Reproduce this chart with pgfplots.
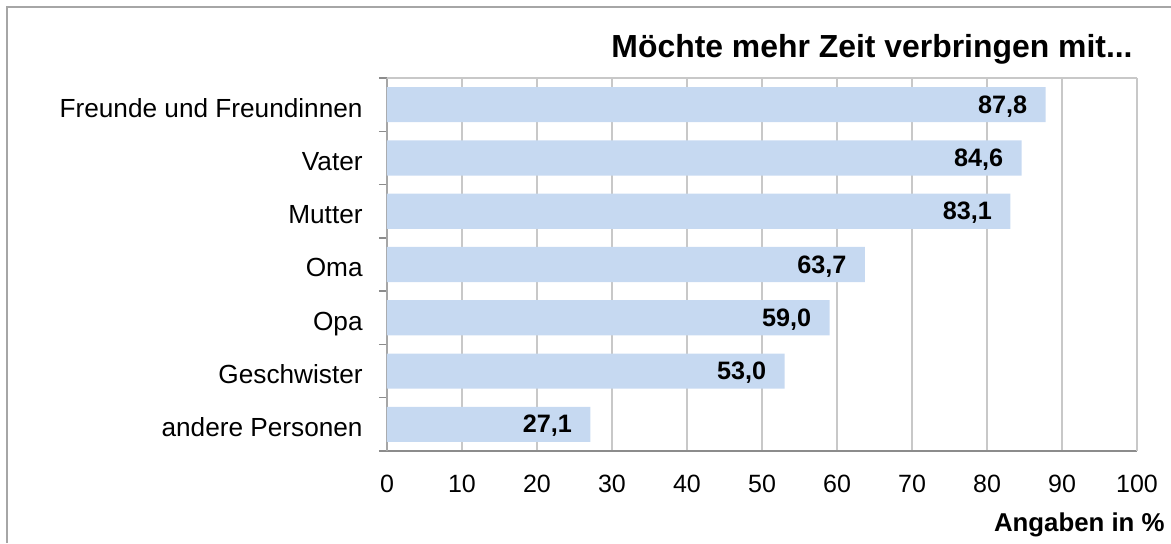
\documentclass[border=0pt]{standalone}
\usepackage{fontspec}
\setmainfont{Liberation Sans}
\usepackage{pgfplots}
\pgfplotsset{compat=1.18}
\definecolor{barblue}{HTML}{C6D9F1}
\definecolor{gridgray}{HTML}{C8C8C8}
\definecolor{axisgray}{HTML}{8C8C8C}
\definecolor{framegray}{HTML}{A6A6A6}

\pgfplotstableread{
y val
0 87.8
1 84.6
2 83.1
3 63.7
4 59.0
5 53.0
6 27.1
}\datatable

\begin{document}
\begin{tikzpicture}
\begin{axis}[
    scale only axis,
    width=375pt, height=186.5pt,
    xbar,
    bar width=0.66,
    xmin=0, xmax=100,
    ymin=-0.5, ymax=6.5,
    y dir=reverse,
    xtick={0,10,...,100},
    ytick={0,...,6},
    yticklabels={Freunde und Freundinnen, Vater, Mutter, Oma, Opa, Geschwister, andere Personen},
    minor ytick={-0.5,0.5,...,6.5},
    tick align=outside,
    major tick length=0pt,
    minor tick length=4pt,
    xtick style={draw=none},
    major y tick style={draw=none},
    minor y tick style={draw=axisgray, line width=0.75pt},
    xmajorgrids,
    grid style={gridgray, line width=0.75pt},
    axis line style={gridgray, line width=0.75pt},
    axis x line*=bottom,
    axis y line*=left,
    separate axis lines,
    x axis line style={axisgray},
    y axis line style={framegray},
    /pgf/number format/assume math mode=true,
    xticklabel style={font=\fontsize{12.5}{15}\selectfont, inner sep=0pt, anchor=base, yshift=-20.5pt},
    yticklabel style={font=\fontsize{13.1}{15}\selectfont, inner sep=0pt, anchor=base east, xshift=-12pt, yshift=-6.2pt},
    nodes near coords={\pgfmathprintnumber[fixed, fixed zerofill, precision=1, use comma]{\pgfplotspointmeta}},
    every node near coord/.append style={font=\bfseries\fontsize{12.6}{15}\selectfont, inner sep=0pt, anchor=base east, xshift=-9pt, yshift=-4.3pt},
    clip=false,
]
\addplot[fill=barblue, draw=none] table[x=val, y=y] {\datatable};
\draw[gridgray, line width=0.75pt] (rel axis cs:0,1) -- (rel axis cs:1,1);
\draw[gridgray, line width=0.75pt] (rel axis cs:1,0) -- (rel axis cs:1,1);
\end{axis}
\node[anchor=base east, inner sep=0pt, font=\bfseries\fontsize{15.95}{20}\selectfont] at (373pt,197pt) {Möchte mehr Zeit verbringen mit...};
\node[anchor=base east, inner sep=0pt, font=\bfseries\fontsize{12.9}{15}\selectfont] at (389pt,-40pt) {Angaben in \%};
\draw[framegray, line width=1pt] (-190pt,-46pt) -- (-190pt,222pt) -- (392pt,222pt);
\pgfresetboundingbox
\useasboundingbox (-193.5pt,-46pt) rectangle (392pt,225.5pt);
\end{tikzpicture}
\end{document}
